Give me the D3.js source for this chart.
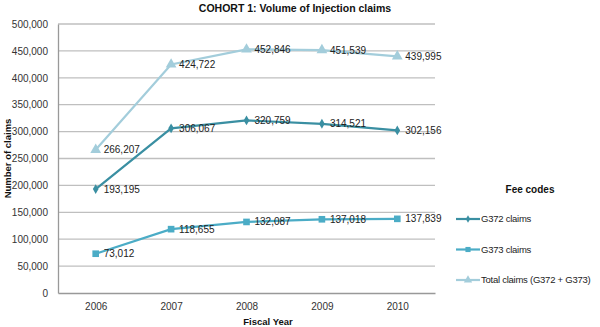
<!DOCTYPE html>
<html>
<head>
<meta charset="utf-8">
<script src="https://cdn.jsdelivr.net/npm/d3@7"></script>
<style>
  html, body { margin: 0; padding: 0; background: #fff; }
  svg { display: block; font-family: "Liberation Sans", Arial, sans-serif; }
  .grid-line { stroke: #bfbfbf; stroke-width: 1.3; }
  .axis text { fill: #333; font-size: 10px; }
</style>
</head>
<body>
<div id="chart"></div>
<script>
/* Cohort 1 — volume of injection claims */
const years = ["2006", "2007", "2008", "2009", "2010"];
const g372 = [193195, 306067, 320759, 314521, 302156];
const g373 = [73012, 118655, 132087, 137018, 137839];
const total = [266207, 424722, 452846, 451539, 439995];
const yTicks = [0, 50000, 100000, 150000, 200000, 250000, 300000, 350000, 400000, 450000, 500000];

const series = [
  { name: "G372 claims", values: g372, color: "#3a8fa2", shape: d3.symbolDiamond, size: 28 },
  { name: "G373 claims", values: g373, color: "#4bacc6", shape: d3.symbolSquare, size: 44 },
  { name: "Total claims (G372 + G373)", values: total, color: "#a3cddb", shape: d3.symbolTriangle, size: 50 }
];

const W = 600, H = 327, M = { t: 24, r: 165, b: 34, l: 58 };
const svg = d3.select("#chart").append("svg").attr("width", W).attr("height", H);

const x = d3.scalePoint().domain(years).range([M.l, W - M.r]).padding(0.5);
const y = d3.scaleLinear().domain([0, 500000]).range([H - M.b, M.t]);
const fmt = d3.format(",");

/* grid */
svg.append("g").selectAll("line").data(yTicks.slice(1)).join("line")
  .attr("class", "grid-line").attr("x1", M.l).attr("x2", W - M.r)
  .attr("y1", d => y(d)).attr("y2", d => y(d));

/* axes */
const gy = svg.append("g").attr("class", "axis").attr("transform", `translate(${M.l},0)`)
  .call(d3.axisLeft(y).tickValues(yTicks).tickFormat(fmt).tickSize(0).tickPadding(10));
gy.select(".domain").attr("stroke", "#999").attr("stroke-width", 1.3);
const gx = svg.append("g").attr("class", "axis").attr("transform", `translate(0,${H - M.b})`)
  .call(d3.axisBottom(x).tickSize(0).tickPadding(10));
gx.select(".domain").attr("stroke", "#999").attr("stroke-width", 1.3);

/* lines + markers + labels */
const line = d3.line().x((d, i) => x(years[i])).y(d => y(d));
series.forEach(s => {
  svg.append("path").attr("d", line(s.values))
    .attr("fill", "none").attr("stroke", s.color).attr("stroke-width", 2.2);
  svg.append("g").selectAll("path").data(s.values).join("path")
    .attr("d", d3.symbol().type(s.shape).size(s.size))
    .attr("transform", (d, i) => `translate(${x(years[i])},${y(d)})`)
    .attr("fill", s.color);
  svg.append("g").selectAll("text").data(s.values).join("text")
    .attr("x", (d, i) => x(years[i]) + 8).attr("y", d => y(d))
    .attr("dy", "0.35em").attr("font-size", 10).attr("fill", "#222")
    .text(fmt);
});

/* titles */
svg.append("text").attr("x", 295).attr("y", 12).attr("text-anchor", "middle")
  .attr("font-size", 10.5).attr("font-weight", "bold").attr("fill", "#111")
  .text("COHORT 1: Volume of Injection claims");
svg.append("text").attr("transform", `translate(8,${(M.t + H - M.b) / 2}) rotate(-90)`)
  .attr("text-anchor", "middle").attr("dy", "0.35em")
  .attr("font-size", 9.5).attr("font-weight", "bold").attr("fill", "#111")
  .text("Number of claims");
svg.append("text").attr("x", 268).attr("y", 325).attr("text-anchor", "middle")
  .attr("font-size", 9.5).attr("font-weight", "bold").attr("fill", "#111")
  .text("Fiscal Year");

/* legend */
svg.append("text").attr("x", 530).attr("y", 193).attr("text-anchor", "middle")
  .attr("font-size", 10).attr("font-weight", "bold").attr("fill", "#111")
  .text("Fee codes");
const lg = svg.append("g").selectAll("g").data(series).join("g")
  .attr("transform", (d, i) => `translate(456,${219 + i * 30.5})`);
lg.append("line").attr("x1", 0).attr("x2", 24).attr("stroke", d => d.color).attr("stroke-width", 2.2);
lg.append("path").attr("d", d => d3.symbol().type(d.shape).size(d.size * 0.6)())
  .attr("transform", "translate(12,0)").attr("fill", d => d.color);
lg.append("text").attr("x", 25).attr("dy", "0.35em").attr("font-size", 9.5)
  .attr("letter-spacing", "-0.25").attr("fill", "#222")
  .text(d => d.name);
</script>
</body>
</html>
